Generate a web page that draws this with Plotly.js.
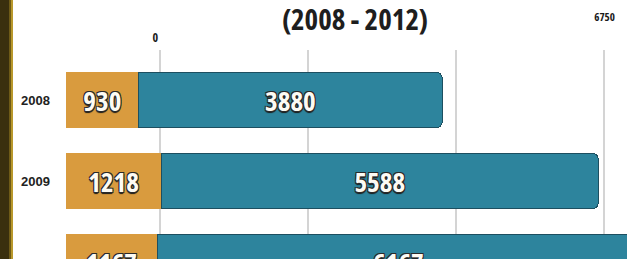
<!DOCTYPE html>
<html>
<head>
<meta charset="utf-8">
<script src="https://cdn.plot.ly/plotly-3.0.1.min.js"></script>
<style>
  html, body { margin: 0; padding: 0; background: #ffffff; }
  #chart { width: 627px; height: 259px; }
  #chart text.bartext, #chart text.gtitle, #chart text.annotation-text { font-stretch: 75%; }
</style>
</head>
<body>
<div id="chart"></div>
<script>
// ---- data ----
const years = [2008, 2009, 2010];
const orangeVals = [930, 1218, 1167];
const tealVals = [3880, 5588, 6167];
const gridVals = [0, 2250, 4500, 6750];
const scaleLabelVals = [0, 6750];
const scaleLabelText = ['0', '6750'];
const titleText = '(2008 - 2012)';

// ---- layout constants ----
const W = 627, H = 259;
const mL = 66, mR = 0, mT = 50, mB = 0;
const plotW = W - mL - mR;
const plotH = H - mT - mB;
const pxPerYear = 81;
const yTop = 2008 - (100 - mT) / pxPerYear;
const yBottom = yTop + plotH / pxPerYear;
const pyToPaper = py => 1 + (mT - py) / plotH;
const pxToPaper = px => (px - mL) / plotW;

const NARROW = '"Open Sans", "Liberation Sans", sans-serif';

const barFont = {
  family: NARROW,
  size: 27, color: '#fdfbf4', weight: 700,
  shadow: '1px 1px 0 #2a2a2a, -1px -1px 0 #2a2a2a, 1px -1px 0 #2a2a2a, -1px 1px 0 #2a2a2a, 0 2px 1px #1a1a1a'
};

function draw() {
  const traces = [
    {
      type: 'bar', orientation: 'h', name: 'a',
      y: years, x: orangeVals,
      text: orangeVals.map(String), textposition: 'inside', insidetextanchor: 'middle',
      textfont: barFont, constraintext: 'none',
      marker: { color: '#d99b3e', line: { width: 0 } },
      width: 0.69, hoverinfo: 'skip'
    },
    {
      type: 'bar', orientation: 'h', name: 'b',
      y: years, x: tealVals,
      text: tealVals.map(String), textposition: 'inside', insidetextanchor: 'middle',
      textfont: barFont, constraintext: 'none',
      marker: { color: '#2d849d', line: { width: 1, color: '#1d4f60' } },
      width: 0.69, hoverinfo: 'skip'
    },
    {
      type: 'scatter', mode: 'markers', xaxis: 'x2', yaxis: 'y',
      x: [null], y: [null], hoverinfo: 'skip', showlegend: false
    }
  ];

  // x2 scale: 0 at px 160, 6750 at px 604
  const x2px = (604 - 160) / 6750;
  const x2min = -(160 - mL) / x2px;
  const x2max = 6750 + (W - mR - 604) / x2px;

  const labelPy = [38, 16];
  const labelSize = [12, 11];
  const labelShift = [-5, 0];
  const annotations = scaleLabelVals.map((v, i) => ({
    xref: 'x2', x: v, yref: 'paper', y: pyToPaper(labelPy[i]), xshift: labelShift[i],
    text: scaleLabelText[i], showarrow: false, xanchor: 'center', yanchor: 'middle',
    font: { family: NARROW, size: labelSize[i], color: '#1a1a1a', weight: 700 }
  }));

  const stripY1 = 1 + mT / plotH + 0.05;
  const layout = {
    width: W, height: H,
    margin: { l: mL, r: mR, t: mT, b: mB, pad: 0 },
    paper_bgcolor: '#ffffff', plot_bgcolor: '#ffffff',
    barmode: 'stack', barcornerradius: 6,
    showlegend: false,
    title: {
      text: titleText, x: 355 / W, xanchor: 'center', xref: 'container',
      y: 1 - 20 / H, yanchor: 'middle', yref: 'container',
      font: { family: NARROW, size: 29, color: '#1e1e1e', weight: 700 }
    },
    xaxis: {
      range: [0, plotW / 0.0782],
      showgrid: false, zeroline: false, showticklabels: false, showline: false, ticks: ''
    },
    xaxis2: {
      overlaying: 'x', side: 'top', range: [x2min, x2max],
      tickmode: 'array', tickvals: gridVals, showticklabels: false,
      showgrid: true, gridcolor: '#d4d4d4', gridwidth: 1.5,
      zeroline: false, showline: false, ticks: ''
    },
    yaxis: {
      range: [yBottom, yTop],
      tickmode: 'array', tickvals: years, ticktext: years.map(String),
      tickfont: { family: '"Liberation Sans", Arial, sans-serif', size: 13, color: '#222222', weight: 700 },
      ticklabelstandoff: 15,
      showgrid: false, zeroline: false, showline: false, ticks: ''
    },
    annotations: annotations,
    shapes: [
      { type: 'rect', xref: 'paper', yref: 'paper', x0: pxToPaper(0), x1: pxToPaper(9), y0: -0.05, y1: stripY1, fillcolor: '#3a2f0e', line: { width: 0 }, layer: 'above' },
      { type: 'rect', xref: 'paper', yref: 'paper', x0: pxToPaper(9), x1: pxToPaper(11), y0: -0.05, y1: stripY1, fillcolor: '#6e5a18', line: { width: 0 }, layer: 'above' },
      { type: 'rect', xref: 'paper', yref: 'paper', x0: pxToPaper(11), x1: pxToPaper(13), y0: -0.05, y1: stripY1, fillcolor: '#b8982c', line: { width: 0 }, layer: 'above' }
    ]
  };

  Plotly.newPlot('chart', traces, layout, { staticPlot: true, displayModeBar: false });
}

draw();
</script>
</body>
</html>
